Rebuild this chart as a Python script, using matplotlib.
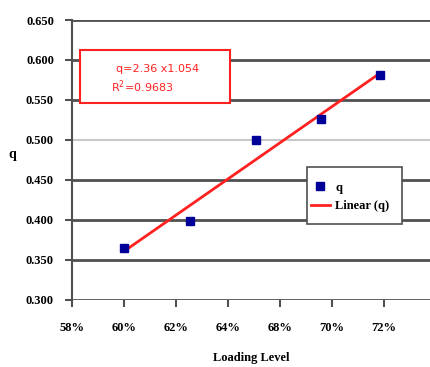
import matplotlib.pyplot as plt
from matplotlib.patches import Rectangle
import numpy as np

# category positions on the x axis (ticks are evenly spaced)
tick_labels = ['58%', '60%', '62%', '64%', '68%', '70%', '72%']
y_ticks = [0.300, 0.350, 0.400, 0.450, 0.500, 0.550, 0.600, 0.650]

# measured points, x in tick units
x_pos = [1.00, 2.27, 3.54, 4.79, 5.92]
q_vals = [0.365, 0.399, 0.500, 0.526, 0.581]

fig = plt.figure(figsize=(4.31, 3.67), dpi=100)
ax = fig.add_axes([0.167, 0.1826, 0.833, 0.7629])

serif = 'Liberation Serif'
fs = 9

# gridlines
for yv in y_ticks:
    if abs(yv - 0.500) < 1e-9:
        ax.axhline(yv, color='#c8c8c8', linewidth=1.5, zorder=1)
    else:
        ax.axhline(yv, color='#505050', linewidth=2, zorder=1)

# linear trendline
coef = np.polyfit(x_pos, q_vals, 1)
xs = np.array([x_pos[0], x_pos[-1]])
ax.plot(xs, np.polyval(coef, xs), color='#ff2020', linewidth=2, zorder=2,
        label='Linear (q)')
ax.plot(x_pos, q_vals, linestyle='none', marker='s', markersize=6.2,
        color='#000099', zorder=3, label='q')

ax.set_xlim(0, 6.9)
ax.set_ylim(0.300, 0.650)
ax.set_xticks(range(len(tick_labels)))
ax.set_xticklabels(tick_labels)
ax.set_yticks(y_ticks)
ax.set_yticklabels([f'{v:.3f}' for v in y_ticks])

for s in ['top', 'right', 'bottom']:
    ax.spines[s].set_visible(False)
ax.spines['left'].set_color('#505050')
ax.spines['left'].set_linewidth(1.5)
ax.tick_params(axis='y', length=5, width=1.5, color='#505050', pad=8)
ax.tick_params(axis='x', length=5, width=1.5, color='#505050', pad=11)
for lab in ax.get_xticklabels() + ax.get_yticklabels():
    lab.set_fontfamily(serif)
    lab.set_fontweight('bold')
    lab.set_fontsize(fs)

ax.set_xlabel('Loading Level', fontfamily=serif, fontweight='bold',
              fontsize=fs, labelpad=13)
fig.text(0.028, 0.578, 'q', fontfamily=serif, fontweight='bold',
         fontsize=fs + 1, ha='center', va='center')

# equation box
ax.add_patch(Rectangle((0.154, 0.546), 2.886, 0.0665, facecolor='white',
                       edgecolor='#ff2020', linewidth=1.5, zorder=5))
ax.text(1.654, 0.5888, 'q=2.36 x1.054', color='#ff2020', fontsize=8,
        ha='center', va='center', zorder=6)
ax.text(0.75, 0.566, 'R$^2$=0.9683', color='#ff2020', fontsize=8,
        ha='left', va='center', zorder=6)

# legend box
ax.add_patch(Rectangle((0.655, 0.271), 0.264, 0.204, transform=ax.transAxes,
                       facecolor='white', edgecolor='#505050', linewidth=1.2,
                       zorder=5))
handles, labels = ax.get_legend_handles_labels()
leg = ax.legend(handles[::-1], labels[::-1], loc='upper left',
                bbox_to_anchor=(0.666, 0.423), frameon=False,
                prop={'family': serif, 'weight': 'bold', 'size': fs},
                handlelength=1.5, borderpad=0, labelspacing=0.55,
                handletextpad=0.45, borderaxespad=0)
leg.set_zorder(6)

fig.savefig('out.png', dpi=100)
